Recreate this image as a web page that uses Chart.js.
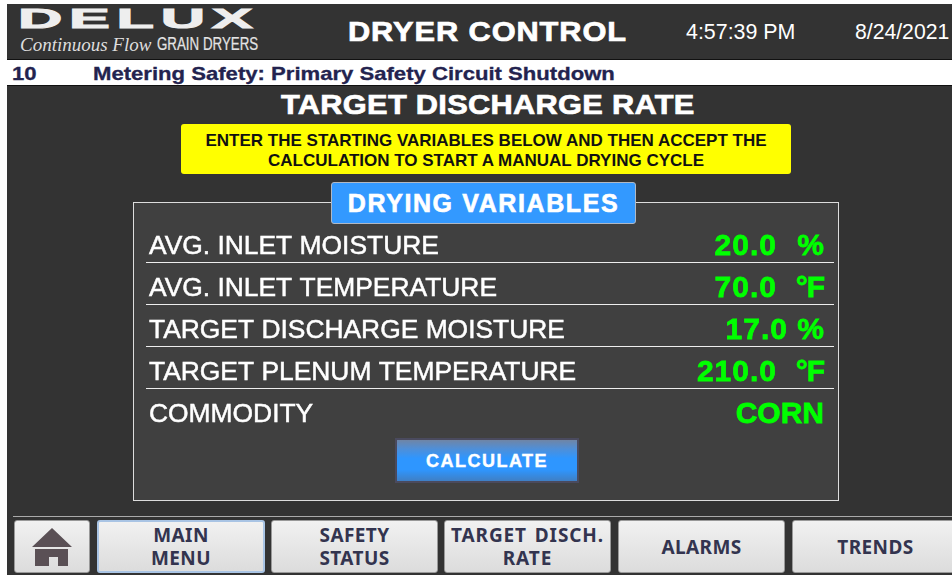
<!DOCTYPE html>
<html>
<head>
<meta charset="utf-8">
<title>Dryer Control</title>
<script src="https://cdn.jsdelivr.net/npm/chart.js@4"></script>
<style>
    html, body { margin: 0; padding: 0; background: #fff; overflow: hidden; width: 952px; height: 575px; }
    body { position: relative; font-family: "Liberation Sans", Arial, sans-serif; }
    .abs { position: absolute; white-space: pre; transform-origin: 0 50%; }
    #screen { position: absolute; left: 7px; top: 4px; width: 945px; height: 571px; background: #333; }
    #alarm { position: absolute; left: 7px; top: 59px; width: 945px; height: 25px; background: #fff; border-top: 1px solid #111; border-bottom: 1px solid #111; }
    .alarmText { color: #23234f; font-weight: bold; font-size: 19px; top: 63px; line-height: 21px; -webkit-text-stroke: 0.3px #23234f; transform: scaleX(1.163); }
    .heading { color: #fff; font-weight: bold; font-size: 28px; line-height: 32px; -webkit-text-stroke: 0.7px #fff; transform: scaleX(1.1); }
    #hint { position: absolute; left: 181px; top: 124px; width: 610px; height: 50px; background: #ff0; border-radius: 3px; text-align: center; color: #111; font-weight: bold; font-size: 17px; line-height: 20px; padding-top: 7px; box-sizing: border-box; }
    #panel { position: absolute; left: 133px; top: 202px; width: 704px; height: 297px; background: #404040; border: 1px solid #ddd; }
    #chart { position: absolute; left: 134px; top: 201px; }
    #tab { position: absolute; left: 331px; top: 182px; width: 303px; height: 40px; background: #39f; border: 1px solid #b0b8c4; border-radius: 3px; text-align: center; color: #fff; font-weight: bold; font-size: 25px; line-height: 40px; letter-spacing: 1.6px; -webkit-text-stroke: 0.6px #fff; }
    #calc { position: absolute; left: 395px; top: 438px; width: 184px; height: 45px; box-sizing: border-box; border: 2px solid #4a4a5e; background: linear-gradient(#6f85a6 0%, #4f8fd8 22%, #2e96ff 45%, #2e96ff 72%, #3f7fc4 100%); text-align: center; color: #fff; font-weight: bold; font-size: 18px; line-height: 42px; letter-spacing: 1.5px; -webkit-text-stroke: 0.4px #fff; }
    #navLine { position: absolute; left: 13px; top: 516px; width: 939px; height: 1px; background: #aaa; }
    .nav { position: absolute; top: 520px; height: 53px; box-sizing: border-box; border: 1px solid #999; border-radius: 3px; background: linear-gradient(#f1f1f1, #dcdcdc); text-align: center; color: #33344f; font-family: "Noto Sans", sans-serif; font-weight: bold; font-size: 19px; line-height: 23px; letter-spacing: 0.4px; padding-top: 1px; display: flex; align-items: center; justify-content: center; }
</style>
</head>
<body>
<div id="screen"></div>

<div class="abs" style="left:18px;top:-1px;font-size:37px;font-weight:bold;color:#eee;line-height:40px;letter-spacing:4px;transform:scale(1.66,0.74);-webkit-text-stroke:1.3px #eee">DELUX</div>
<div class="abs" style="left:20px;top:36px;font-family:'Liberation Serif',serif;font-style:italic;font-size:19px;color:#ddd;line-height:18px">Continuous Flow</div>
<div class="abs" style="left:157px;top:35px;font-size:18px;color:#e4e4e4;line-height:19px;transform:scaleX(0.74);-webkit-text-stroke:0.2px #e4e4e4">GRAIN DRYERS</div>

<div class="abs heading" style="left:348px;top:16px;letter-spacing:0.8px">DRYER CONTROL</div>
<div class="abs" style="left:686px;top:21px;font-size:21.4px;line-height:22px;color:#fff">4:57:39 PM</div>
<div class="abs" style="left:855px;top:21px;font-size:21.2px;line-height:22px;color:#fff">8/24/2021</div>

<div id="alarm"></div>
<div class="abs alarmText" style="left:12px">10</div>
<div class="abs alarmText" style="left:93px">Metering Safety: Primary Safety Circuit Shutdown</div>

<div class="abs heading" style="left:281px;top:89px;letter-spacing:0.25px">TARGET DISCHARGE RATE</div>

<div id="hint">ENTER THE STARTING VARIABLES BELOW AND THEN ACCEPT THE<br>CALCULATION TO START A MANUAL DRYING CYCLE</div>

<div id="panel"></div>
<canvas id="chart" width="704" height="299"></canvas>
<div id="tab">DRYING VARIABLES</div>
<div id="calc">CALCULATE</div>

<div id="navLine"></div>
<div class="nav" style="left:14px;width:76px">
    <svg width="42" height="39" viewBox="0 0 42 39"><path fill="#5a5055" d="M21 0 L41 19 L1 19 Z M4 21 L37 21 L37 38 L27 38 L27 29 L18 29 L18 38 L4 38 Z"/></svg>
</div>
<div class="nav" style="left:97px;width:168px;border:2px solid #a9c4e4">MAIN<br>MENU</div>
<div class="nav" style="left:271px;width:167px">SAFETY<br>STATUS</div>
<div class="nav" style="left:444px;width:167px;letter-spacing:0.9px;word-spacing:2px">TARGET DISCH.<br>RATE</div>
<div class="nav" style="left:618px;width:167px">ALARMS</div>
<div class="nav" style="left:792px;width:167px">TRENDS</div>

<script>
// Drying variables
const variables = ['AVG. INLET MOISTURE', 'AVG. INLET TEMPERATURE', 'TARGET DISCHARGE MOISTURE', 'TARGET PLENUM TEMPERATURE', 'COMMODITY'];
const values = [20.0, 70.0, 17.0, 210.0, null];
const units = ['%', '°F', '%', '°F', ''];
const commodity = ['', '', '', '', 'CORN'];

// green readouts at the right hand side of each row
const readoutPlugin = {
    id: 'readouts',
    afterDatasetsDraw(chart) {
        const c = chart.ctx;
        const yScale = chart.scales.y;
        const right = chart.chartArea.right - 10;
        const put = (text, x, y, spacing) => {
            c.letterSpacing = spacing;
            c.fillText(text, x, y);
            c.strokeText(text, x, y);
        };
        c.save();
        c.font = 'bold 30px "Liberation Sans", Arial, sans-serif';
        c.fillStyle = '#00ff00';
        c.strokeStyle = '#00ff00';
        c.lineWidth = 0.8;
        c.textAlign = 'right';
        c.textBaseline = 'middle';
        variables.forEach((name, i) => {
            const y = yScale.getPixelForValue(i) + 6;
            if (values[i] === null) {
                put(commodity[i], right, y, '0px');
                return;
            }
            // the third row sits closer to its unit on the original screen
            const numberEnd = right - (i === 2 ? 36 : 47);
            put(values[i].toFixed(1), numberEnd, y, '1px');
            put(units[i], right, y, units[i] === '°F' ? '-1px' : '0px');
        });
        c.restore();
    }
};

new Chart(document.getElementById('chart'), {
    type: 'bar',
    data: {
        labels: variables,
        datasets: [{
            label: 'Drying variables',
            data: values,
            backgroundColor: 'transparent'
        }]
    },
    options: {
        indexAxis: 'y',
        responsive: false,
        animation: false,
        layout: { padding: { left: 6, right: 4, top: 19, bottom: 70 } },
        plugins: {
            legend: { display: false },
            tooltip: { enabled: false }
        },
        scales: {
            x: { display: false, min: 0, max: 220 },
            y: {
                border: { display: false },
                grid: {
                    offset: true,
                    drawTicks: false,
                    lineWidth: 1,
                    // the top edge and the one under the last row stay off
                    color: ctx => (ctx.index >= 1 && ctx.index < variables.length) ? '#eeeeee' : 'transparent'
                },
                ticks: {
                    mirror: true,
                    padding: 3,
                    labelOffset: 6,
                    color: '#ffffff',
                    textStrokeColor: '#ffffff',
                    textStrokeWidth: 0.5,
                    font: { family: '"Liberation Sans", Arial, sans-serif', size: 26.4 }
                }
            }
        }
    },
    plugins: [readoutPlugin]
});
</script>
</body>
</html>
